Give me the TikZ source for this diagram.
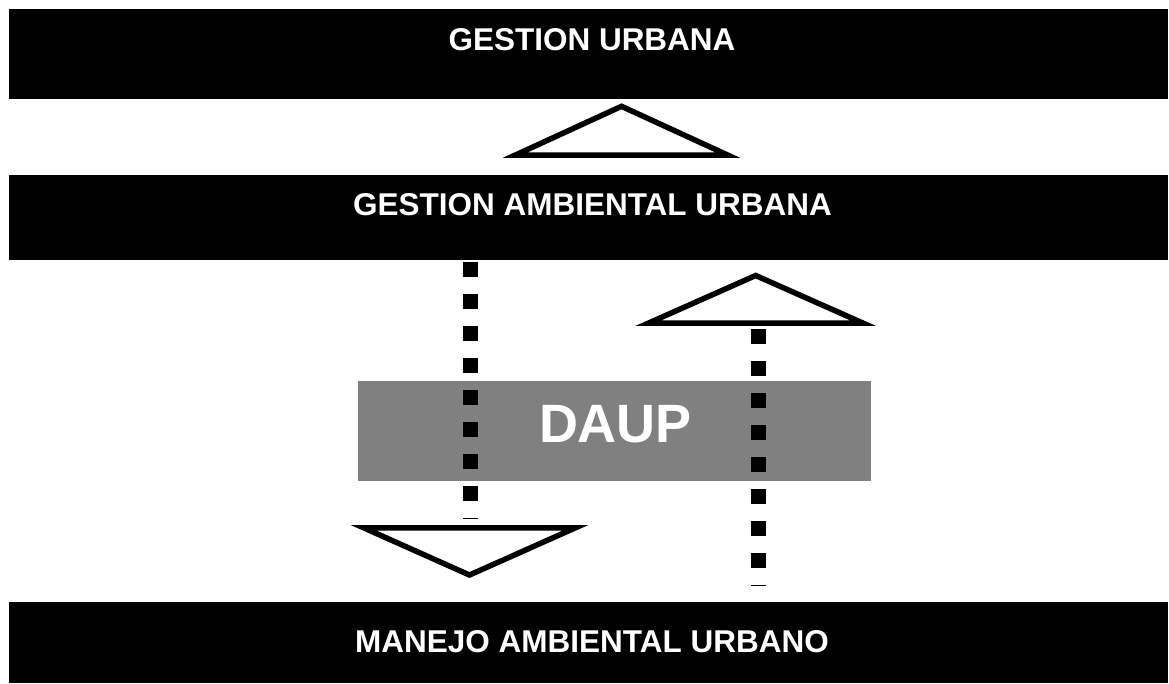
\documentclass[tikz,border=0pt]{standalone}
\usepackage{fontspec}
\setmainfont{Liberation Sans}
\begin{document}
\begin{tikzpicture}[x=1pt,y=-1pt,
  bar/.style={fill=black,draw=none,minimum width=1159pt,inner sep=0pt,anchor=north west},
  bartext/.style={text=white,font=\fontsize{31.5}{36}\selectfont\bfseries,inner sep=0pt,anchor=base},
  daupbox/.style={fill=gray,draw=none,minimum width=513pt,minimum height=100pt,inner sep=0pt,anchor=north west},
  dauptext/.style={text=white,font=\fontsize{54}{60}\selectfont\bfseries,inner sep=0pt,anchor=base},
  tri/.style={draw=black,fill=white,line width=5.5pt,line join=miter,miter limit=10},
  dotline/.style={draw=black,line width=15pt,line cap=butt,dash pattern=on 15pt off 17pt}
]
\useasboundingbox (0,0) rectangle (1169,683);

% the three black bands
\node[bar,minimum height=90pt] (gu) at (9,9) {};
\node[bar,minimum height=85pt] (gau) at (9,175) {};
\node[bar,minimum height=81pt] (mau) at (9,602) {};
\node[bartext] (gut) at (592,50) {GESTION URBANA};
\node[bartext] (gaut) at (592.5,215) {GESTION AMBIENTAL URBANA};
\node[bartext] (maut) at (592,652) {MANEJO AMBIENTAL URBANO};

% grey DAUP band
\node[daupbox] (daup) at (358,381) {};
\node[dauptext] (dauplabel) at (615.5,442) {DAUP};

% triangle between the two upper bands
\coordinate (t1a) at (621.5,106.3);
\coordinate (t1l) at (515.5,155);
\coordinate (t1r) at (727.5,155);
\draw[tri] (t1a) -- (t1r) -- (t1l) -- cycle;

% upward triangle on the right
\coordinate (t2a) at (755.7,275.5);
\coordinate (t2l) at (648.7,323);
\coordinate (t2r) at (862.7,323);
\draw[tri] (t2a) -- (t2r) -- (t2l) -- cycle;

% downward triangle on the left
\coordinate (t3a) at (469.5,575);
\coordinate (t3l) at (363.5,527.75);
\coordinate (t3r) at (575.5,527.75);
\draw[tri] (t3a) -- (t3r) -- (t3l) -- cycle;

% dotted links
\coordinate (l1s) at (470.5,262);
\coordinate (l1e) at (470.5,519);
\coordinate (l2s) at (758.5,329);
\coordinate (l2e) at (758.5,586);
\draw[dotline] (l1s) -- (l1e);
\draw[dotline] (l2s) -- (l2e);
\end{tikzpicture}
\end{document}
